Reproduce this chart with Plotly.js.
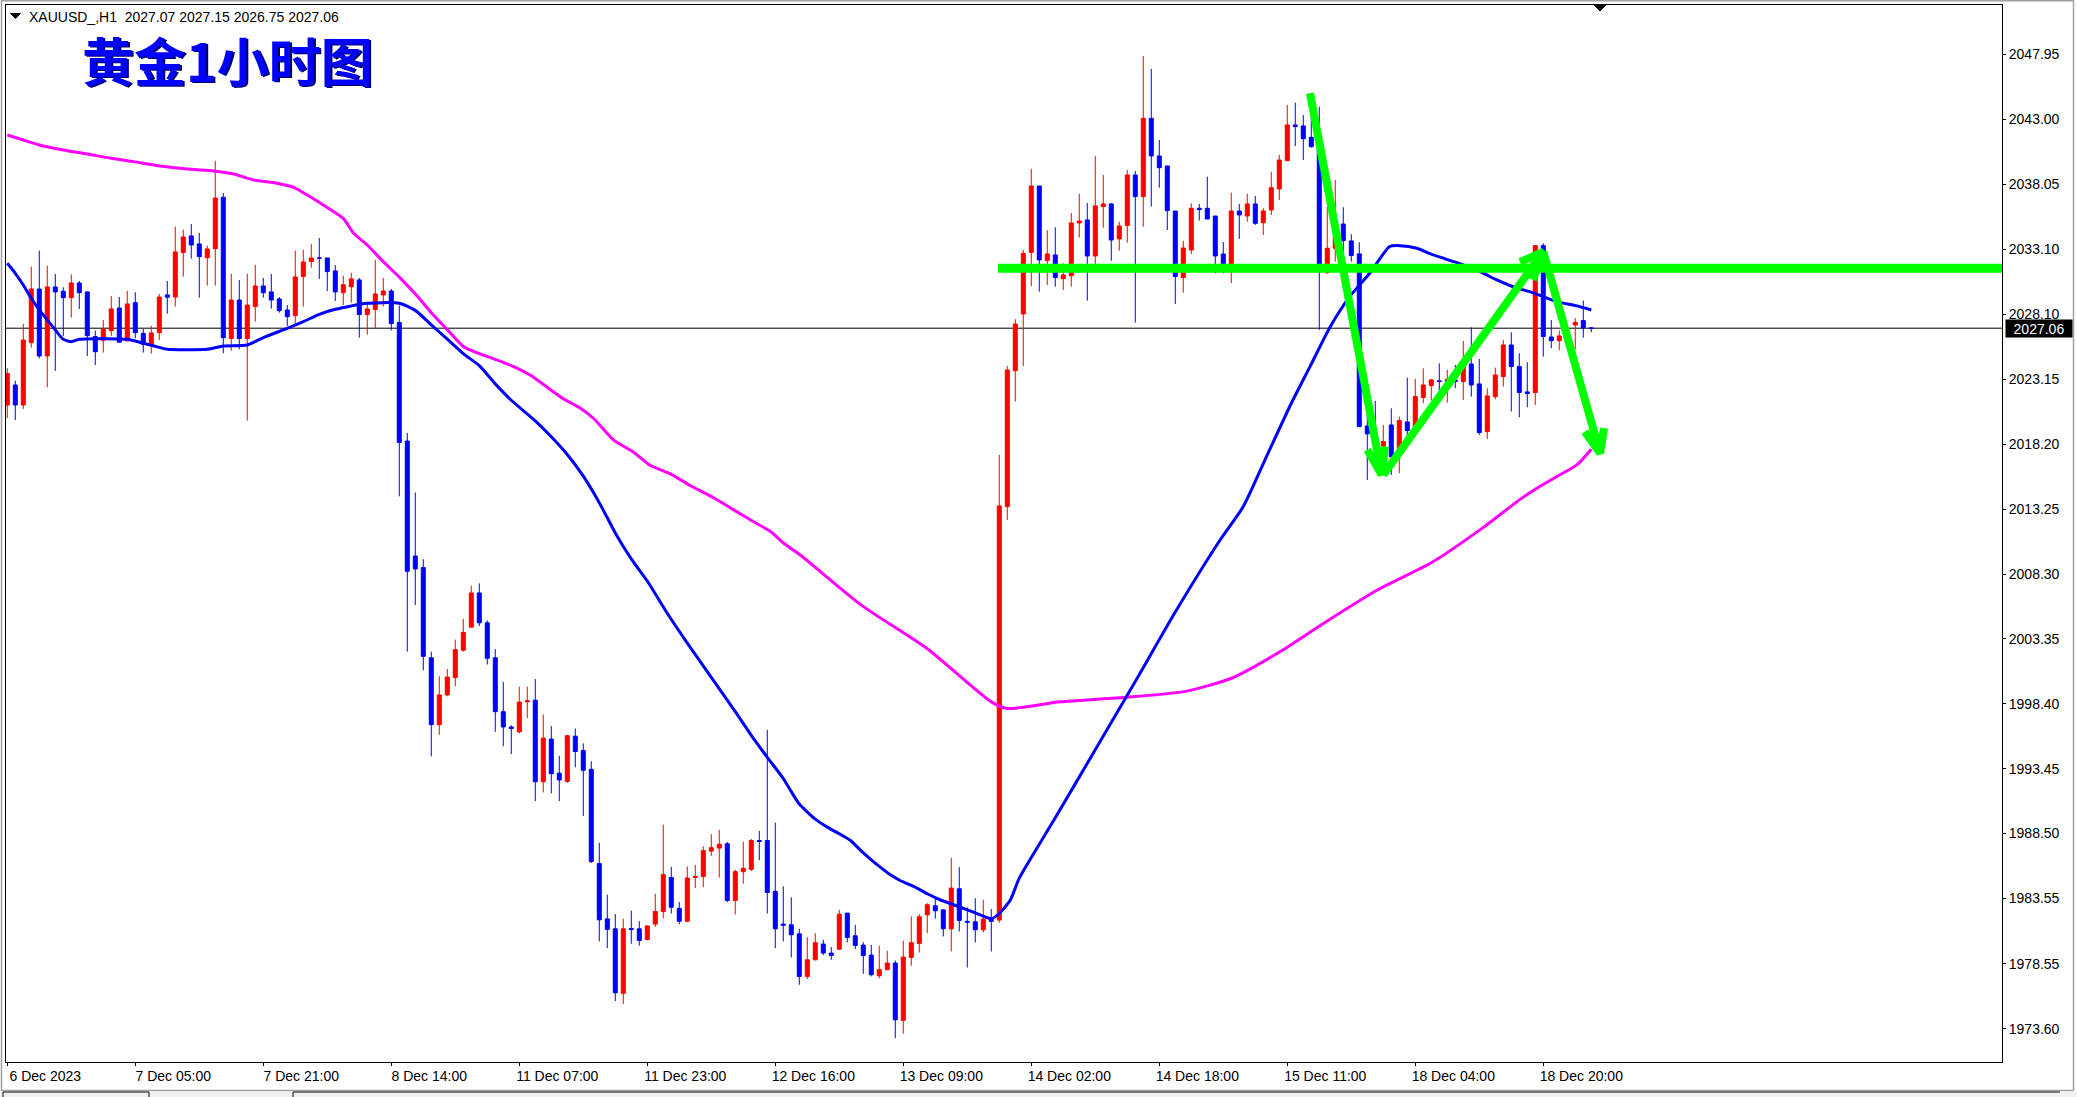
<!DOCTYPE html>
<html>
<head>
<meta charset="utf-8">
<script src="https://cdn.plot.ly/plotly-3.0.1.min.js"></script>
<style>
  html, body { margin: 0; padding: 0; background: #ffffff; }
  #chart { width: 2077px; height: 1097px; }
</style>
</head>
<body>
<div id="chart"></div>
<script>
// ---------------- DATA ----------------
const symbolName = 'XAUUSD_,H1';
const chartTitle = '黄金1小时图';

const xTickBars = [0, 16, 32, 48, 64, 80, 96, 112, 128, 144, 160, 176, 192];
const xTickLabels = ['6 Dec 2023', '7 Dec 05:00', '7 Dec 21:00', '8 Dec 14:00', '11 Dec 07:00',
  '11 Dec 23:00', '12 Dec 16:00', '13 Dec 09:00', '14 Dec 02:00', '14 Dec 18:00',
  '15 Dec 11:00', '18 Dec 04:00', '18 Dec 20:00'];

const yTickLabels = ['2047.95', '2043.00', '2038.05', '2033.10', '2028.10', '2023.15', '2018.20',
  '2013.25', '2008.30', '2003.35', '1998.40', '1993.45', '1988.50', '1983.55', '1978.55', '1973.60'];

const openPrices = [
  2021.2, 2022.73, 2021.2, 2025.96, 2030.05, 2024.94, 2030.21, 2029.88, 2029.39, 2030.51,
  2029.83, 2026.42, 2026.14, 2026.87, 2028.6, 2026.09, 2029.01, 2026.67, 2025.78, 2026.72,
  2029.6, 2029.44, 2032.83, 2034.1, 2033.49, 2032.44, 2033.13, 2037.05, 2026.27, 2029.21,
  2026.27, 2028.71, 2030.28, 2029.83, 2029.29, 2028.45, 2028.02, 2031.0, 2032.14, 2032.42,
  2032.42, 2031.43, 2029.77, 2030.23, 2030.74, 2028.1, 2028.48, 2029.6, 2029.9, 2027.5,
  2018.45, 2009.68, 2008.8, 2001.91, 1996.81, 1999.08, 2000.4, 2002.49, 2004.25, 2006.86,
  2004.58, 2001.91, 1997.8, 1996.63, 1996.26, 1998.55, 1998.68, 1992.45, 1995.71, 1993.11,
  1992.48, 1995.93, 1994.83, 1993.4, 1986.21, 1981.99, 1981.23, 1976.31, 1981.26, 1981.23,
  1980.42, 1981.59, 1982.55, 1985.15, 1982.8, 1981.81, 1985.15, 1985.22, 1987.16, 1987.39,
  1987.72, 1983.39, 1985.59, 1985.77, 1987.97, 1987.97, 1984.09, 1981.6, 1981.54, 1980.85,
  1977.6, 1978.87, 1980.07, 1979.38, 1979.68, 1982.43, 1980.7, 1979.99, 1979.23, 1977.65,
  1978.11, 1978.62, 1974.24, 1979.05, 1980.12, 1982.3, 1982.99, 1982.68, 1981.24, 1984.29,
  1981.8, 1981.77, 1981.16, 1982.07, 1981.9, 2013.45, 2023.82, 2028.15, 2032.83, 2037.91,
  2032.22, 2032.65, 2030.84, 2031.07, 2035.09, 2035.32, 2032.57, 2036.34, 2036.54, 2033.87,
  2034.89, 2038.75, 2037.1, 2043.07, 2040.2, 2039.44, 2036.0, 2030.92, 2033.03, 2036.21,
  2036.21, 2035.62, 2032.72, 2031.5, 2036.0, 2035.62, 2036.54, 2035.11, 2036.08, 2037.68,
  2039.84, 2042.57, 2042.49, 2041.62, 2040.9, 2031.3, 2033.16, 2035.01, 2033.72, 2032.73,
  2019.6, 2019.04, 2018.03, 2019.68, 2017.77, 2019.91, 2019.3, 2021.77, 2022.68, 2023.04,
  2022.99, 2023.1, 2022.99, 2024.33, 2022.81, 2019.17, 2021.84, 2023.37, 2025.78, 2024.13,
  2022.2, 2022.15, 2033.36, 2026.39, 2026.11, 2026.4, 2027.31, 2027.64, 2027.07];

const highPrices = [
  2024.0, 2023.06, 2027.38, 2031.76, 2032.98, 2031.83, 2031.2, 2030.18, 2031.17, 2030.66,
  2029.83, 2026.87, 2027.69, 2029.52, 2029.44, 2029.9, 2029.8, 2027.0, 2027.23, 2029.67,
  2030.66, 2034.81, 2034.58, 2035.01, 2034.33, 2033.36, 2039.82, 2037.38, 2031.2, 2030.74,
  2031.2, 2031.88, 2030.89, 2031.2, 2029.44, 2028.83, 2032.98, 2033.03, 2033.49, 2033.94,
  2032.42, 2031.88, 2031.07, 2031.28, 2030.89, 2028.98, 2032.27, 2030.89, 2030.05, 2028.79,
  2019.07, 2014.52, 2009.43, 2002.38, 2000.51, 2001.06, 2003.3, 2004.88, 2007.41, 2007.59,
  2004.77, 2002.57, 2000.07, 1996.77, 1999.71, 1999.71, 2000.29, 1997.58, 1996.7, 1994.43,
  1996.04, 1996.52, 1995.38, 1994.02, 1987.79, 1983.83, 1982.36, 1982.0, 1982.62, 1981.82,
  1981.52, 1983.9, 1989.18, 1985.96, 1983.28, 1985.99, 1986.1, 1987.53, 1988.45, 1988.78,
  1987.86, 1985.74, 1987.86, 1988.08, 1988.71, 1996.41, 1989.33, 1984.47, 1983.63, 1981.24,
  1980.6, 1980.9, 1980.4, 1979.84, 1982.68, 1982.43, 1981.54, 1980.22, 1980.01, 1979.94,
  1979.56, 1978.82, 1980.32, 1982.18, 1982.35, 1983.19, 1983.57, 1982.68, 1986.63, 1985.94,
  1982.86, 1983.57, 1983.45, 1982.74, 2017.39, 2024.18, 2027.74, 2033.03, 2039.21, 2037.91,
  2034.53, 2034.76, 2032.01, 2035.85, 2037.3, 2036.61, 2040.2, 2038.75, 2036.61, 2035.19,
  2039.13, 2039.06, 2047.83, 2046.84, 2041.42, 2039.44, 2036.0, 2033.72, 2036.59, 2036.54,
  2038.62, 2035.62, 2033.64, 2037.4, 2036.54, 2037.3, 2037.15, 2036.21, 2039.0, 2040.28,
  2044.09, 2044.27, 2043.33, 2043.2, 2043.96, 2036.34, 2038.37, 2036.29, 2034.23, 2033.62,
  2021.46, 2021.51, 2019.68, 2020.95, 2020.32, 2023.29, 2023.19, 2024.0, 2023.19, 2024.38,
  2023.88, 2024.26, 2026.09, 2027.13, 2024.71, 2022.48, 2024.05, 2026.16, 2026.75, 2025.15,
  2024.46, 2033.41, 2033.54, 2027.69, 2026.88, 2027.0, 2027.82, 2029.16, 2027.15];

const lowPrices = [
  2020.2, 2020.06, 2020.9, 2025.58, 2024.76, 2022.55, 2023.8, 2026.47, 2027.87, 2028.53,
  2024.94, 2024.25, 2025.2, 2026.47, 2025.99, 2026.09, 2026.29, 2025.2, 2025.12, 2026.16,
  2028.17, 2028.71, 2031.0, 2032.37, 2029.39, 2030.31, 2030.31, 2025.15, 2025.35, 2025.45,
  2020.01, 2027.56, 2029.39, 2028.55, 2028.25, 2027.23, 2027.43, 2028.71, 2031.68, 2030.82,
  2029.9, 2029.14, 2028.83, 2029.01, 2026.34, 2026.57, 2027.03, 2028.71, 2026.9, 2014.23,
  2002.38, 2005.94, 2000.95, 1994.39, 1996.04, 1998.97, 1999.74, 2002.38, 2004.25, 2004.33,
  2001.4, 1996.26, 1995.16, 1994.57, 1996.15, 1997.32, 1990.98, 1991.64, 1991.57, 1990.98,
  1992.37, 1993.55, 1989.84, 1986.25, 1980.27, 1979.76, 1975.72, 1975.5, 1980.09, 1979.94,
  1980.35, 1981.37, 1982.03, 1982.4, 1981.59, 1981.74, 1984.34, 1984.42, 1986.8, 1985.15,
  1983.28, 1982.33, 1984.67, 1985.63, 1986.47, 1982.4, 1979.76, 1980.27, 1979.05, 1976.96,
  1977.4, 1978.82, 1979.23, 1978.87, 1979.63, 1980.19, 1979.68, 1977.8, 1977.6, 1977.45,
  1978.11, 1972.89, 1973.23, 1978.41, 1979.43, 1980.91, 1982.0, 1980.65, 1979.51, 1981.03,
  1978.28, 1980.19, 1980.96, 1979.5, 1981.7, 2012.43, 2021.46, 2024.18, 2030.28, 2029.85,
  2030.36, 2030.23, 2029.98, 2030.23, 2033.97, 2029.16, 2031.96, 2034.73, 2032.21, 2032.98,
  2033.59, 2027.49, 2034.81, 2036.34, 2037.78, 2034.55, 2028.91, 2029.77, 2032.7, 2035.27,
  2035.39, 2031.25, 2031.25, 2030.5, 2033.87, 2035.19, 2034.94, 2034.17, 2035.7, 2036.84,
  2039.84, 2040.96, 2039.89, 2040.84, 2026.93, 2031.2, 2032.14, 2032.14, 2032.14, 2019.5,
  2015.48, 2016.5, 2016.76, 2015.86, 2016.0, 2018.79, 2019.04, 2021.33, 2021.54, 2021.54,
  2021.38, 2022.48, 2021.59, 2021.84, 2018.92, 2018.61, 2021.64, 2022.6, 2020.7, 2020.26,
  2021.03, 2021.2, 2024.89, 2025.53, 2025.4, 2026.0, 2025.45, 2026.34, 2026.75];

const closePrices = [
  2023.6, 2021.2, 2026.16, 2030.05, 2024.94, 2030.21, 2029.83, 2029.39, 2030.51, 2029.77,
  2026.49, 2025.27, 2027.0, 2028.53, 2025.99, 2028.91, 2026.72, 2025.83, 2026.7, 2029.44,
  2029.42, 2032.88, 2034.02, 2033.41, 2032.52, 2033.11, 2036.99, 2026.34, 2029.21, 2026.27,
  2028.83, 2030.28, 2029.77, 2029.21, 2028.4, 2027.94, 2030.97, 2032.11, 2032.42, 2032.4,
  2031.38, 2029.83, 2030.38, 2030.82, 2028.1, 2028.53, 2029.67, 2029.9, 2027.41, 2018.34,
  2008.51, 2008.69, 2002.02, 1996.81, 1999.08, 2000.44, 2002.53, 2003.85, 2006.86, 2004.58,
  2001.87, 1997.8, 1996.63, 1996.52, 1998.53, 1998.63, 1992.45, 1995.78, 1993.07, 1992.59,
  1995.97, 1994.76, 1993.33, 1986.36, 1981.92, 1981.19, 1976.35, 1981.23, 1981.19, 1980.35,
  1981.45, 1982.55, 1985.37, 1982.88, 1981.81, 1985.11, 1985.22, 1987.2, 1987.42, 1987.68,
  1983.39, 1985.59, 1985.85, 1987.97, 1987.9, 1984.01, 1981.23, 1981.5, 1980.78, 1977.6,
  1978.87, 1980.17, 1979.38, 1979.2, 1982.35, 1980.57, 1979.96, 1979.2, 1977.73, 1978.11,
  1978.62, 1974.29, 1979.07, 1980.17, 1982.15, 1983.07, 1982.61, 1981.24, 1984.34, 1981.87,
  1981.74, 1981.16, 1981.97, 1981.8, 2013.5, 2023.87, 2027.38, 2032.77, 2037.91, 2032.27,
  2032.72, 2030.92, 2031.12, 2035.09, 2035.24, 2032.57, 2036.39, 2036.54, 2033.79, 2034.86,
  2038.75, 2037.1, 2043.07, 2040.2, 2039.31, 2036.03, 2031.0, 2033.18, 2036.21, 2036.11,
  2035.39, 2032.57, 2031.76, 2036.0, 2035.7, 2036.54, 2035.06, 2036.0, 2037.78, 2039.89,
  2042.57, 2042.44, 2041.52, 2040.91, 2031.9, 2033.16, 2034.05, 2033.74, 2032.6, 2019.55,
  2019.0, 2018.28, 2018.41, 2017.26, 2020.01, 2019.25, 2021.84, 2022.73, 2023.11, 2022.99,
  2023.16, 2022.99, 2024.13, 2022.73, 2019.1, 2021.89, 2023.49, 2025.78, 2024.13, 2022.15,
  2022.07, 2033.36, 2026.42, 2026.11, 2026.47, 2026.7, 2027.51, 2027.1, 2027.06];

// Blue moving average at these bars
const maFastBars = [0, 1, 2, 3, 4, 5, 6, 7, 8, 9, 11, 15, 17, 19, 20, 25, 27, 30, 32, 35, 37, 39, 41, 43,
  45, 49, 51, 53, 55, 57, 59, 61, 63, 66, 68, 70, 72, 74, 76, 78, 80, 82.6, 84.7, 86.8, 88.9, 91,
  93, 95, 97, 98, 99, 101, 102.5, 104, 105.4, 106.6, 108, 109, 110.4, 111.6, 113.3, 115, 116.6,
  118.3, 120, 121.6, 123, 124, 125.4, 126.5, 131, 136, 141, 146, 151.6, 154.5, 157.4, 160.4,
  162.9, 165.3, 167.8, 170.3, 172.8, 174.1, 176.2, 178.25, 181.2, 183.7, 186.2, 188.7, 190.3,
  192, 193.7, 196.2, 198];
const maFastValues = [2032.01, 2031.25, 2030.36, 2029.34, 2028.45, 2027.69, 2026.93, 2026.21, 2026.03,
  2026.21, 2026.26, 2026.21, 2025.91, 2025.6, 2025.45, 2025.45, 2025.71, 2025.78, 2026.34, 2027.05,
  2027.56, 2028.12, 2028.5, 2028.76, 2028.96, 2028.97, 2028.42, 2027.32, 2026.22, 2025.12, 2024.2,
  2022.81, 2021.56, 2019.99, 2018.78, 2017.42, 2015.77, 2013.75, 2011.44, 2009.46, 2007.77, 2005.21,
  2003.3, 2001.47, 1999.63, 1997.8, 1996.0, 1994.32, 1992.7, 1991.7, 1990.75, 1989.6, 1988.99,
  1988.48, 1987.97, 1987.26, 1986.5, 1986.0, 1985.35, 1984.92, 1984.47, 1983.91, 1983.45, 1983.07,
  1982.68, 1982.3, 1982.0, 1982.4, 1983.45, 1985.1, 1989.7, 1994.9, 2000.1, 2005.4, 2010.9,
  2013.45, 2017.26, 2021.2, 2024.2, 2027.1, 2029.47, 2031.25, 2033.29, 2033.36, 2033.16, 2032.65,
  2032.06, 2031.5, 2030.74, 2030.11, 2029.85, 2029.47, 2029.09, 2028.76, 2028.45];

// Magenta moving average at these bars
const maSlowBars = [0, 2, 4, 7, 10, 13, 15.8, 19.1, 22.9, 25.8, 28.3, 30.8, 33.7, 35.8, 37.5, 39.5, 42,
  43.3, 45, 47, 49.1, 51.4, 53, 55, 57, 59, 61, 63.3, 65.4, 67.5, 69.6, 71.6, 73.3, 75.8, 78.3,
  80.4, 82.9, 85.4, 88.3, 90.8, 93.3, 95.4, 97.1, 99.2, 106.75, 115, 123, 125, 131.6, 139.9,
  147.3, 153.1, 159.7, 164.7, 171.3, 178, 184.6, 189.1, 191.2, 193.7, 196.2, 198];
const maSlowValues = [2041.8, 2041.42, 2041.04, 2040.66, 2040.35, 2040.02, 2039.77, 2039.44, 2039.18,
  2039.06, 2038.83, 2038.37, 2038.12, 2037.81, 2037.22, 2036.46, 2035.44, 2034.3, 2033.41, 2032.14,
  2030.9, 2029.4, 2028.24, 2026.95, 2025.67, 2025.12, 2024.68, 2024.13, 2023.47, 2022.55, 2021.64,
  2020.98, 2020.17, 2018.52, 2017.6, 2016.58, 2015.95, 2015.04, 2014.12, 2013.2, 2012.29, 2011.55,
  2010.63, 2009.72, 2005.93, 2002.6, 1998.55, 1998.04, 1998.55, 1998.9, 1999.35, 2000.37, 2002.6,
  2004.6, 2007.1, 2009.16, 2011.9, 2014.0, 2014.85, 2015.74, 2016.63, 2017.83];

// Hand-drawn green objects (bar index, price)
const resistanceBars = [123.84, 250];
const resistancePrices = [2031.63, 2031.63];
const arrowDownBars = [162.84, 171.8];
const arrowDownPrices = [2044.98, 2015.87];
const arrowDownHeadBars = [170.0, 171.8, 172.2];
const arrowDownHeadPrices = [2017.78, 2015.87, 2018.03];
const arrowUpBars = [172.0, 192.0];
const arrowUpPrices = [2015.87, 2032.9];
const arrowUpHeadBars = [190.7, 192.0, 189.1];
const arrowUpHeadPrices = [2030.75, 2032.9, 2032.1];
const arrowLastBars = [192.0, 199.1];
const arrowLastPrices = [2032.9, 2017.52];
const arrowLastHeadBars = [197.2, 199.1, 199.6];
const arrowLastHeadPrices = [2019.17, 2017.52, 2019.43];

// ---------------- CHART ----------------
const W = 2077, H = 1097;
const M = { l: 6, r: 75, t: 5, b: 35 };
const PW = W - M.l - M.r, PH = H - M.t - M.b;
const px = x => (x - M.l) / PW;      // page px -> paper x
const py = y => 1 - (y - M.t) / PH;  // page px -> paper y

const bars = openPrices.map((_, i) => i);
const last = closePrices.length - 1;

const greenLine = (xs, ys, w) => ({
  type: 'scatter', mode: 'lines', x: xs, y: ys, hoverinfo: 'skip', showlegend: false,
  line: { color: '#00ff00', width: w }
});

const traces = [
  {
    type: 'candlestick', x: bars, open: openPrices, high: highPrices, low: lowPrices, close: closePrices,
    increasing: { line: { color: '#ff0000', width: 1 }, fillcolor: '#ff0000' },
    decreasing: { line: { color: '#0000ff', width: 1 }, fillcolor: '#0000ff' },
    whiskerwidth: 0, hoverinfo: 'skip', showlegend: false
  },
  { type: 'scatter', mode: 'lines', x: maSlowBars, y: maSlowValues, hoverinfo: 'skip', showlegend: false,
    line: { color: '#ff00ff', width: 3, shape: 'spline', smoothing: 0.6 } },
  { type: 'scatter', mode: 'lines', x: maFastBars, y: maFastValues, hoverinfo: 'skip', showlegend: false,
    line: { color: '#0000ff', width: 3, shape: 'spline', smoothing: 0.6 } },
  greenLine(resistanceBars, resistancePrices, 9),
  greenLine(arrowDownBars, arrowDownPrices, 8),
  greenLine(arrowDownHeadBars, arrowDownHeadPrices, 8),
  greenLine(arrowUpBars, arrowUpPrices, 8),
  greenLine(arrowUpHeadBars, arrowUpHeadPrices, 8),
  greenLine(arrowLastBars, arrowLastPrices, 8),
  greenLine(arrowLastHeadBars, arrowLastHeadPrices, 8)
];

const f2 = v => v.toFixed(2);
const headerText = symbolName + '\u00a0\u00a0' + [openPrices[last], highPrices[last], lowPrices[last], closePrices[last]].map(f2).join(' ');

const layout = {
  width: W, height: H, margin: M,
  paper_bgcolor: '#ffffff', plot_bgcolor: '#ffffff',
  showlegend: false,
  boxgap: 0.5, boxgroupgap: 0,
  font: { family: '"Liberation Sans", Arial, sans-serif', size: 14, color: '#000000' },
  xaxis: {
    type: 'linear', range: [-0.16, 249.34], fixedrange: true,
    showgrid: false, zeroline: false, rangeslider: { visible: false },
    showline: true, mirror: true, linecolor: '#000000', linewidth: 1,
    ticks: 'outside', ticklen: 3, tickcolor: '#000000', tickwidth: 1,
    tickmode: 'array', tickvals: xTickBars, ticktext: xTickLabels,
    ticklabelshift: 38, ticklabelstandoff: -2,
    tickfont: { family: '"Liberation Sans", Arial, sans-serif', size: 14, color: '#000000' }
  },
  yaxis: {
    side: 'right', range: [1971.07, 2051.72], fixedrange: true,
    showgrid: false, zeroline: false,
    showline: true, mirror: true, linecolor: '#000000', linewidth: 1,
    ticks: 'outside', ticklen: 3, tickcolor: '#000000', tickwidth: 1,
    tickmode: 'array', tickvals: yTickLabels.map(Number), ticktext: yTickLabels,
    tickfont: { family: '"Liberation Sans", Arial, sans-serif', size: 14, color: '#000000' }
  },
  shapes: [
    // last price line
    { type: 'line', xref: 'paper', x0: 0, x1: 1, yref: 'y', y0: closePrices[last], y1: closePrices[last],
      line: { color: '#000000', width: 1 }, layer: 'below' },
    // chart-shift marker
    { type: 'path', xref: 'paper', yref: 'paper', layer: 'above',
      path: `M ${px(1594)} ${py(5)} L ${px(1606)} ${py(5)} L ${px(1600)} ${py(11)} Z`,
      fillcolor: '#000000', line: { color: '#000000', width: 1 } },
    // header triangle
    { type: 'path', xref: 'paper', yref: 'paper', layer: 'above',
      path: `M ${px(10.5)} ${py(13.5)} L ${px(20.5)} ${py(13.5)} L ${px(15.5)} ${py(18.5)} Z`,
      fillcolor: '#000000', line: { color: '#000000', width: 1 } },
    // window frame
    { type: 'rect', xref: 'paper', yref: 'paper', x0: px(1.5), x1: px(2073.5), y0: py(1090.5), y1: py(0.8),
      line: { color: '#a0a0a0', width: 1.5 }, layer: 'below' },
    { type: 'rect', xref: 'paper', yref: 'paper', x0: px(0), x1: px(2077), y0: py(1097), y1: py(1091.5),
      fillcolor: '#f0f0f0', line: { width: 0 }, layer: 'below' },
    { type: 'path', xref: 'paper', yref: 'paper', layer: 'above', line: { color: '#000000', width: 1 },
      path: `M ${px(3)} ${py(1097)} L ${px(3)} ${py(1092)} L ${px(149)} ${py(1092)} L ${px(149)} ${py(1097)}` },
    { type: 'path', xref: 'paper', yref: 'paper', layer: 'above', line: { color: '#000000', width: 1 },
      path: `M ${px(293)} ${py(1097)} L ${px(293)} ${py(1092)} L ${px(2060)} ${py(1092)}` }
  ],
  annotations: [
    { xref: 'paper', yref: 'paper', x: px(27), y: py(16.5), xanchor: 'left', yanchor: 'middle',
      text: headerText, showarrow: false,
      font: { family: '"Liberation Sans", Arial, sans-serif', size: 14, color: '#000000' } },
    // title shadow + title
    { xref: 'paper', yref: 'paper', x: px(80), y: py(59.5), xanchor: 'left', yanchor: 'middle',
      xshift: 1.5, yshift: -1.5, text: '<b>' + chartTitle + '</b>', showarrow: false,
      font: { family: '"Noto Sans CJK SC", sans-serif', size: 52, color: '#000060' } },
    { xref: 'paper', yref: 'paper', x: px(80), y: py(59.5), xanchor: 'left', yanchor: 'middle',
      text: '<b>' + chartTitle + '</b>', showarrow: false,
      font: { family: '"Noto Sans CJK SC", sans-serif', size: 52, color: '#0000ff' } },
    // last price tag
    { xref: 'paper', yref: 'y', x: 1, y: closePrices[last], xanchor: 'left', yanchor: 'middle',
      xshift: 3, text: f2(closePrices[last]), showarrow: false, bgcolor: '#000000',
      width: 64, height: 15, align: 'center', borderpad: 1,
      font: { family: '"Liberation Sans", Arial, sans-serif', size: 14, color: '#ffffff' } }
  ]
};

Plotly.newPlot('chart', traces, layout, { staticPlot: true, displayModeBar: false });
</script>
</body>
</html>
